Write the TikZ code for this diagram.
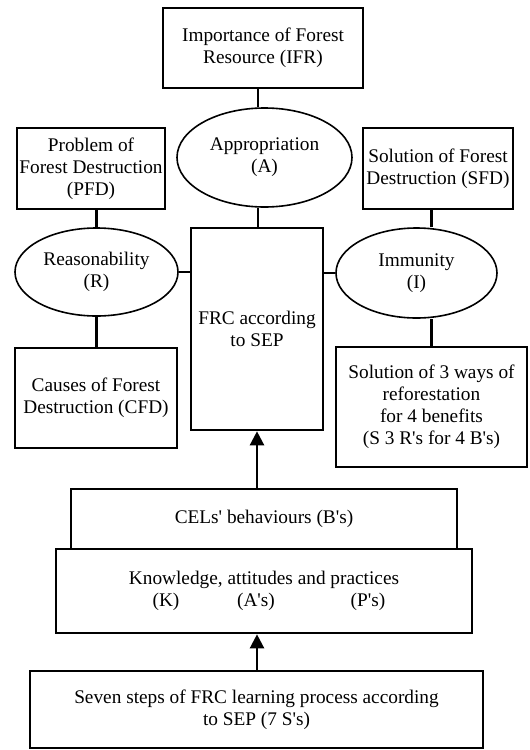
\documentclass[tikz,border=0pt]{standalone}
\usepackage{fontspec}
\setmainfont{Liberation Serif}
\usetikzlibrary{shapes.geometric,arrows.meta}
\newcommand\ap{\textquotesingle}
\tikzset{
  box/.style={draw, line width=2.6pt, rectangle, inner sep=0pt, align=center,
    font=\fontsize{19.3}{22}\selectfont},
  oval/.style={draw, line width=1.6pt, ellipse, inner sep=0pt, align=center,
    font=\fontsize{19.3}{22}\selectfont},
  link/.style={line width=2.3pt},
  arr/.style={line width=2.3pt, -{Triangle[length=14pt,width=14pt]}}
}
\begin{document}
\begin{tikzpicture}[x=1pt,y=-1pt]
\useasboundingbox (0,0) rectangle (530,750);
\node[box, minimum width=200pt, minimum height=80pt] (IFR) at (263,48) {Importance of Forest\\Resource (IFR)};
\node[oval, minimum width=175pt, minimum height=99pt] (A) at (264.5,157.5) {Appropriation\\(A)};
\node[box, minimum width=148pt, minimum height=81pt] (PFD) at (91,168.5) {Problem of\\Forest Destruction\\(PFD)};
\node[box, minimum width=150pt, minimum height=81pt] (SFD) at (438,168.5) {Solution of Forest\\Destruction (SFD)};
\node[oval, minimum width=163pt, minimum height=88pt] (R) at (96.5,272) {Reasonability\\(R)};
\node[oval, minimum width=161pt, minimum height=90pt] (I) at (416.5,273) {Immunity\\(I)};
\node[box, minimum width=132pt, minimum height=202pt] (FRC) at (257,329) {FRC according\\to SEP};
\node[box, minimum width=162pt, minimum height=100pt] (CFD) at (96,398) {Causes of Forest\\Destruction (CFD)};
\node[box, minimum width=191pt, minimum height=120pt] (SOL) at (431.5,407) {Solution of 3 ways of\\reforestation\\for 4 benefits\\(S 3 R\ap s for 4 B\ap s)};
\node[box, minimum width=386pt, minimum height=60pt] (B) at (264,519) {CELs\ap{} behaviours (B\ap s)};
\node[box, minimum width=416pt, minimum height=84pt] (KAP) at (264,591) {Knowledge, attitudes and practices\\\hspace*{6pt}\makebox[0pt]{(K)}\hspace{90pt}\makebox[0pt]{(A\ap s)}\hspace{112pt}\makebox[0pt]{(P\ap s)}};
\node[box, minimum width=453pt, minimum height=77pt] (SEV) at (256.5,709.5) {Seven steps of FRC learning process according\\to SEP (7 S\ap s)};
% connectors
\coordinate (cx) at (258,0);
\draw[link] (cx |- IFR.south) -- (cx |- A.north);
\draw[link] (cx |- A.south) -- (cx |- FRC.north);
\draw[link] (R.north |- PFD.south) -- (R.north);
\draw[link] (R.south) -- (R.south |- CFD.north);
\draw[link] (SOL.north |- SFD.south) -- (SOL.north |- I.north);
\draw[link] (SOL.north |- I.south) -- (SOL.north);
\draw[link] (R.east) -- (R.east -| FRC.west);
\draw[link] (I.west) -- (I.west -| FRC.east);
\draw[arr] (FRC.south |- B.north) -- (FRC.south);
\draw[arr] (FRC.south |- SEV.north) -- (FRC.south |- KAP.south);
\end{tikzpicture}
\end{document}
